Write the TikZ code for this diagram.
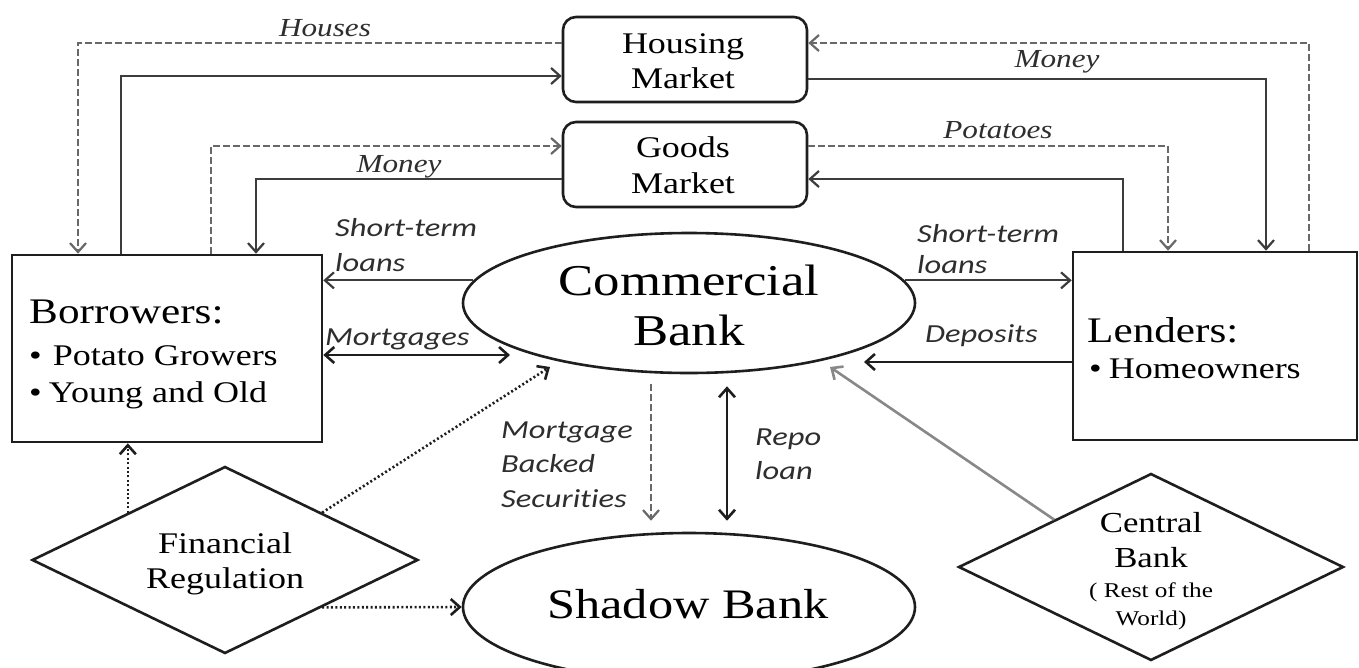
\documentclass[tikz,border=0pt]{standalone}
\usepackage{fontspec}
\setmainfont{Liberation Serif}[FakeStretch=1.2]
\newfontfamily\labelsans{Carlito}[FakeStretch=1.25, Ligatures=NoCommon]
\usetikzlibrary{shapes.geometric,arrows.meta}
\definecolor{linec}{HTML}{3C3C3C}
\definecolor{dashcol}{HTML}{686868}
\definecolor{boxc}{HTML}{1E1E1E}
\definecolor{cbgray}{HTML}{888888}
\definecolor{labc}{HTML}{2E2E2E}
\tikzset{
  box/.style={draw=boxc, line width=2.6pt, inner sep=0pt},
  tip/.style={-{Straight Barb[length=9pt,width=16pt]}},
  dtip/.style={{Straight Barb[length=9pt,width=16pt]}-{Straight Barb[length=9pt,width=16pt]}},
  conn/.style={draw=linec, line width=2.2pt},
  dashc/.style={draw=dashcol, line width=2.2pt, dash pattern=on 6.5pt off 3.5pt},
  dotc/.style={draw=boxc, line width=2.6pt, dash pattern=on 2pt off 2.4pt},
  lab/.style={font=\labelsans\itshape\fontsize{26}{30}\selectfont, text=labc, inner sep=0pt},
  serlab/.style={font=\itshape\fontsize{26}{30}\selectfont, text=labc, inner sep=0pt},
  big/.style={font=\fontsize{44}{50}\selectfont, inner sep=0pt},
  mid/.style={font=\fontsize{30}{36}\selectfont, inner sep=0pt},
  hdr/.style={font=\fontsize{36}{40}\selectfont, inner sep=0pt},
}
\begin{document}
\begin{tikzpicture}[x=1pt,y=-1pt]
\fill[white] (0,0) rectangle (1359,667);
\useasboundingbox (0,0) rectangle (1359,667);

% shapes
\node[box, rounded corners=13pt, minimum width=244pt, minimum height=85pt] (housing) at (685,59.5) {};
\node[box, rounded corners=13pt, minimum width=244pt, minimum height=85pt] (goods) at (685,164.5) {};
\node[box, minimum width=310pt, minimum height=187pt] (borrowers) at (167,348.5) {};
\node[box, minimum width=284pt, minimum height=188pt] (lenders) at (1215,346) {};
\node[box, ellipse, minimum width=452pt, minimum height=140pt] (commercial) at (689,303) {};
\node[box, ellipse, minimum width=452pt, minimum height=148pt] (shadow) at (689,607) {};
\node[box, diamond, minimum width=386pt, minimum height=187pt] (finreg) at (225,560) {};
\node[box, diamond, minimum width=385pt, minimum height=187pt] (central) at (1151,567) {};

% texts in shapes
\node[mid, anchor=base] (t-hous) at (683,53) {Housing};
\node[mid, anchor=base] (t-hmkt) at (683,88) {Market};
\node[mid, anchor=base] (t-good) at (683,157) {Goods};
\node[mid, anchor=base] (t-gmkt) at (683,193) {Market};
\node[big, anchor=base] (t-comm) at (689,295) {Commercial};
\node[big, anchor=base] (t-cbank) at (689,345) {Bank};
\node[font=\fontsize{42}{48}\selectfont, inner sep=0pt, anchor=base] (t-shadow) at (688,618) {Shadow Bank};
\node[hdr, anchor=base west] (t-borr) at (29,323) {Borrowers:};
\node[mid, anchor=base west] (t-pot) at (29,365) {•\hspace{11pt}Potato Growers};
\node[mid, anchor=base west] (t-yng) at (29,402) {•\hspace{7pt}Young and Old};
\node[hdr, anchor=base west] (t-lend) at (1087,342) {Lenders:};
\node[mid, anchor=base west] (t-home) at (1089,378) {•\hspace{7pt}Homeowners};
\node[mid, anchor=base] (t-fin) at (225,553) {Financial};
\node[mid, anchor=base] (t-reg) at (225,588) {Regulation};
\node[font=\fontsize{29}{34}\selectfont, inner sep=0pt, anchor=base] (t-cen) at (1151,532) {Central};
\node[font=\fontsize{29}{34}\selectfont, inner sep=0pt, anchor=base] (t-cenb) at (1151,567) {Bank};
\node[font=\fontsize{21}{24}\selectfont, inner sep=0pt, anchor=base] (t-rest) at (1151,597) {( Rest of the};
\node[font=\fontsize{21}{24}\selectfont, inner sep=0pt, anchor=base] (t-world) at (1151,625) {World)};

% connector labels
\node[serlab, anchor=base] (l-houses) at (325,36) {Houses};
\node[serlab, anchor=base] (l-money1) at (1057,67) {Money};
\node[serlab, anchor=base] (l-pot) at (998,138) {Potatoes};
\node[serlab, anchor=base] (l-money2) at (399,172) {Money};
\node[lab, anchor=base west] (l-st1) at (335,236) {Short-term};
\node[lab, anchor=base west] (l-lo1) at (335,271) {loans};
\node[lab, anchor=base west] (l-mort) at (325,345) {Mortgages};
\node[lab, anchor=base west] (l-st2) at (917,242) {Short-term};
\node[lab, anchor=base west] (l-lo2) at (917,273) {loans};
\node[lab, anchor=base west] (l-dep) at (925,342) {Deposits};
\node[lab, anchor=base west] (l-mbs1) at (501,438) {Mortgage};
\node[lab, anchor=base west] (l-mbs2) at (501,472) {Backed};
\node[lab, anchor=base west] (l-mbs3) at (501,507) {Securities};
\node[lab, anchor=base west] (l-repo1) at (755,445) {Repo};
\node[lab, anchor=base west] (l-repo2) at (755,479) {loan};

% free ends
\coordinate (mortE) at (510,355);
\coordinate (depE) at (864,362);
\coordinate (cbE) at (830,367);
\coordinate (frE) at (550,367);

% top-left connectors
\draw[dashc, tip] ([yshift=16.5pt]housing.west) -| ([xshift=-89pt]borrowers.north);
\draw[conn, tip] ([xshift=-46pt]borrowers.north) |- ([yshift=-16.5pt]housing.west);
\draw[dashc, tip] ([xshift=44pt]borrowers.north) |- ([yshift=18.5pt]goods.west);
\draw[conn, tip] ([yshift=-14.5pt]goods.west) -| ([xshift=89pt]borrowers.north);
% top-right connectors
\draw[dashc, tip] ([xshift=94pt]lenders.north) |- ([yshift=16.5pt]housing.east);
\draw[conn, tip] ([yshift=-19.5pt]housing.east) -| ([xshift=51pt]lenders.north);
\draw[dashc, tip] ([yshift=18.5pt]goods.east) -| ([xshift=-47pt]lenders.north);
\draw[conn, tip] ([xshift=-92pt]lenders.north) |- ([yshift=-14.5pt]goods.east);
% bank connectors
\draw[conn, tip] (commercial.174) -- (commercial.174 -| borrowers.east);
\draw[conn, tip] (commercial.6) -- (commercial.6 -| lenders.west);
\draw[conn, draw=boxc, line width=2.6pt, dtip] ([yshift=-6.5pt]borrowers.east) -- (mortE);
\draw[conn, draw=boxc, line width=2.6pt, tip] ([yshift=-16pt]lenders.west) -- (depE);
\draw[conn, draw=cbgray, line width=2.6pt, tip] (central.north west) -- (cbE);
\draw[dashc, tip] ([shift={(-38pt,-10pt)}]commercial.south) -- ([shift={(-38pt,11pt)}]shadow.north);
\draw[conn, draw=boxc, line width=2.6pt, dtip] ([shift={(38pt,-12pt)}]commercial.south) -- ([shift={(38pt,11pt)}]shadow.north);
% regulation
\draw[dotc, tip] (finreg.north east) -- (frE);
\draw[dotc, tip] (finreg.north west) -- (finreg.north west |- borrowers.south);
\draw[dotc, tip] (finreg.south east) -- (shadow.west);
\end{tikzpicture}
\end{document}
